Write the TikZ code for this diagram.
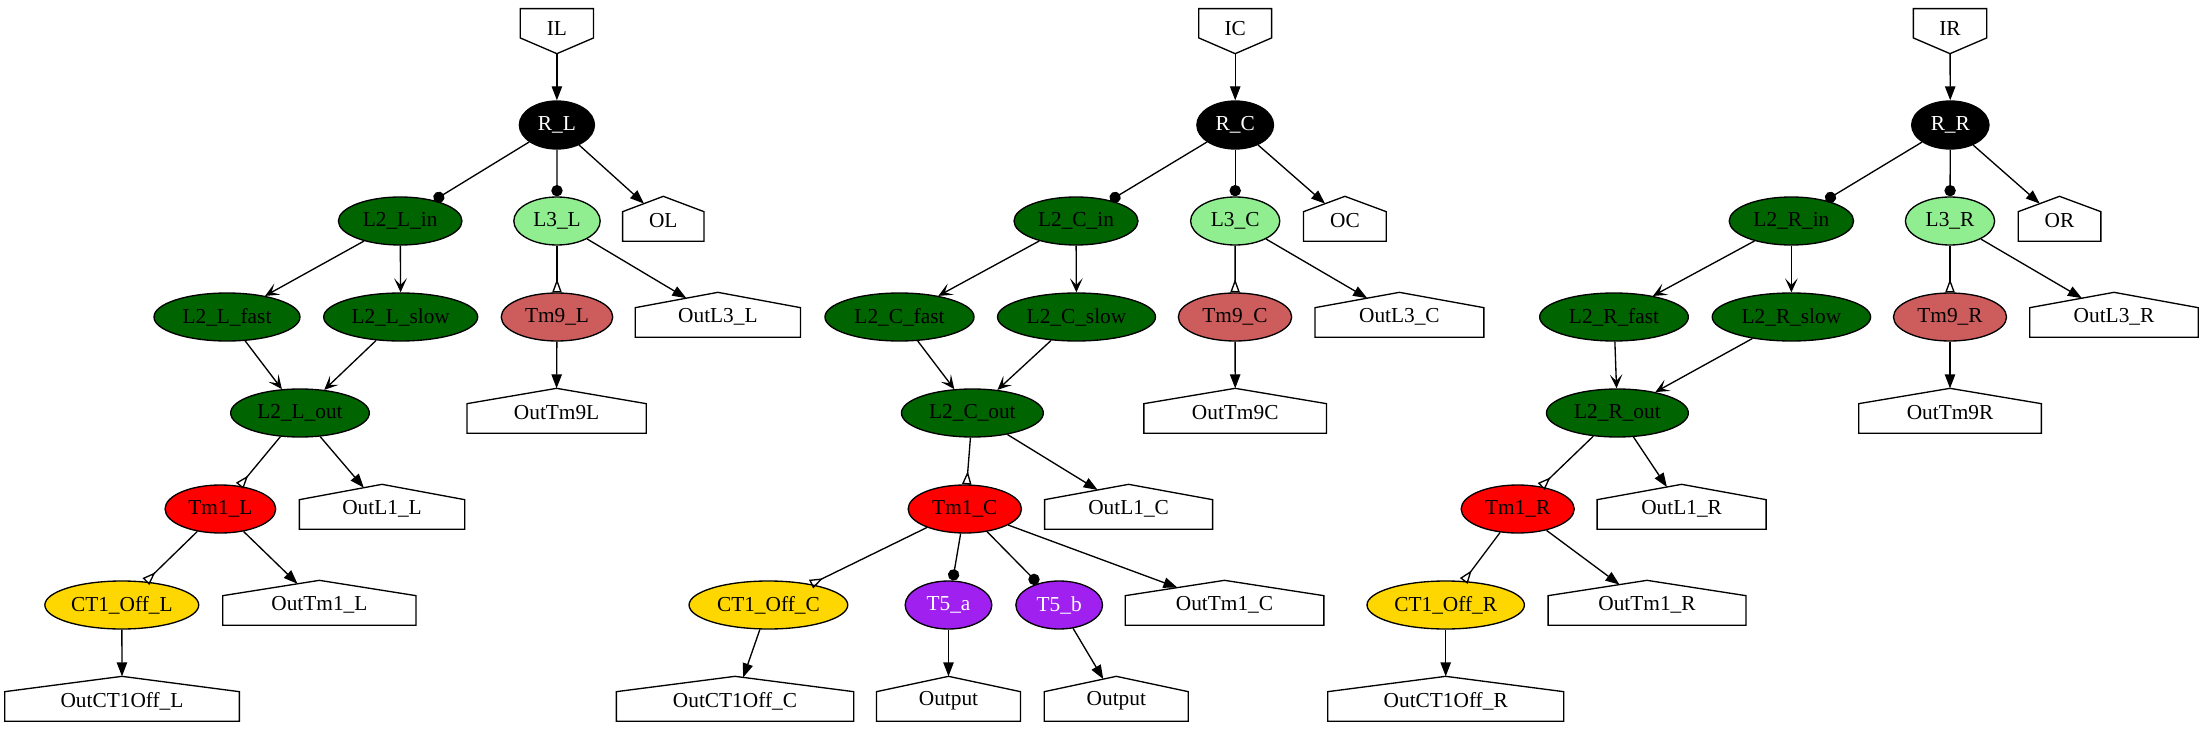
\documentclass[tikz,border=0pt]{standalone}
\usepackage{fontspec}
\setmainfont{Liberation Serif}
\usetikzlibrary{shapes.geometric,arrows.meta,intersections}
\definecolor{dkgreen}{HTML}{006400}
\definecolor{ltgreen}{HTML}{90EE90}
\definecolor{indred}{HTML}{CD5C5C}
\definecolor{goldc}{HTML}{FFD700}
\definecolor{purp}{HTML}{A020F0}
\newcommand\hsdraw[1]{\draw[name path=#1-bd] ([yshift=3.3pt]#1.south west) -- ([yshift=-11.5pt]#1.north west) -- (#1.north) -- ([yshift=-11.5pt]#1.north east) -- ([yshift=3.3pt]#1.south east) -- cycle;}
\newcommand\ihsdraw[1]{\draw ([yshift=-3.2pt]#1.north west) -- ([yshift=11.8pt]#1.south west) -- (#1.south) -- ([yshift=11.8pt]#1.south east) -- ([yshift=-3.2pt]#1.north east) -- cycle;}
\newcommand\hsedge[3]{%
  \path[name path=#2-#3-ln] (#2.center) -- (#3.center);
  \path[name intersections={of=#2-#3-ln and #3-bd, by={#2-#3-hit}}];
  \draw[#1] (#2) -- (#2-#3-hit);%
}
\begin{document}
\begin{tikzpicture}[x=0.75pt,y=-0.75pt,font=\fontsize{16}{19}\selectfont,line width=1pt,
  ell/.style={ellipse,draw,inner sep=0pt,minimum height=36pt},
  hs/.style={rectangle,inner sep=0pt,minimum height=36pt},
  blk/.style={ell,fill=black,text=white},
  dg/.style={ell,fill=dkgreen},
  lg/.style={ell,fill=ltgreen},
  ir/.style={ell,fill=indred},
  rd/.style={ell,fill=red},
  gd/.style={ell,fill=goldc},
  pu/.style={ell,fill=purp,text=white},
  anorm/.style={-{Triangle[length=10.5pt,width=7.8pt]}},
  adot/.style={-{Circle[length=8.5pt]}},
  avee/.style={-{Stealth[length=10.5pt,width=9.5pt,inset=5pt]}},
  ainv/.style={-{Triangle[open,reversed,length=10pt,width=7pt]}}]
\useasboundingbox (0,0) rectangle (2203,731);
% ---------- Left ----------
\node[hs,minimum width=54pt] (IL) at (556.9,29) {IL};
\node[blk,minimum width=56.3pt] (RL) at (556.9,125) {R\_L};
\node[dg,minimum width=92.7pt] (L2Lin) at (400.2,221) {L2\_L\_in};
\node[lg,minimum width=64.8pt] (L3L) at (557,221) {L3\_L};
\node[hs,minimum width=60pt] (OL) at (663.3,221) {OL};
\node[dg,minimum width=109.5pt] (L2Lfast) at (227,317) {L2\_L\_fast};
\node[dg,minimum width=115.5pt] (L2Lslow) at (400.7,317) {L2\_L\_slow};
\node[ir,minimum width=83.6pt] (Tm9L) at (557,317) {Tm9\_L};
\node[hs,minimum width=123pt] (OutL3L) at (717.9,317) {OutL3\_L};
\node[dg,minimum width=104pt] (L2Lout) at (300,413) {L2\_L\_out};
\node[hs,minimum width=133.5pt] (OutTm9L) at (556.6,413) {OutTm9L};
\node[rd,minimum width=83pt] (Tm1L) at (220.4,509) {Tm1\_L};
\node[hs,minimum width=123pt] (OutL1L) at (382,509) {OutL1\_L};
\node[gd,minimum width=115.4pt] (CT1L) at (121.8,605) {CT1\_Off\_L};
\node[hs,minimum width=144pt] (OutTm1L) at (319.4,605) {OutTm1\_L};
\node[hs,minimum width=175pt] (OutCTL) at (122,701) {OutCT1Off\_L};
% ---------- Center ----------
\node[hs,minimum width=53.6pt] (IC) at (1235.2,29) {IC};
\node[blk,minimum width=57.5pt] (RC) at (1235.2,125) {R\_C};
\node[dg,minimum width=93pt] (L2Cin) at (1076,221) {L2\_C\_in};
\node[lg,minimum width=66.9pt] (L3C) at (1235.2,221) {L3\_C};
\node[hs,minimum width=61pt] (OC) at (1344.9,221) {OC};
\node[dg,minimum width=111.8pt] (L2Cfast) at (899.5,317) {L2\_C\_fast};
\node[dg,minimum width=118.5pt] (L2Cslow) at (1076.5,317) {L2\_C\_slow};
\node[ir,minimum width=85pt] (Tm9C) at (1235,317) {Tm9\_C};
\node[hs,minimum width=125.7pt] (OutL3C) at (1399.4,317) {OutL3\_C};
\node[dg,minimum width=106.4pt] (L2Cout) at (972.4,413) {L2\_C\_out};
\node[hs,minimum width=136pt] (OutTm9C) at (1235.2,413) {OutTm9C};
\node[rd,minimum width=85pt] (Tm1C) at (964.8,509) {Tm1\_C};
\node[hs,minimum width=125pt] (OutL1C) at (1128.6,509) {OutL1\_C};
\node[gd,minimum width=119pt] (CT1C) at (768.4,605) {CT1\_Off\_C};
\node[pu,minimum width=65pt] (T5a) at (948.5,605) {T5\_a};
\node[pu,minimum width=65pt] (T5b) at (1059.2,605) {T5\_b};
\node[hs,minimum width=148pt] (OutTm1C) at (1224.5,605) {OutTm1\_C};
\node[hs,minimum width=177pt] (OutCTC) at (735,701) {OutCT1Off\_C};
\node[hs,minimum width=107pt] (OutA) at (948.5,701) {Output};
\node[hs,minimum width=107pt] (OutB) at (1116.3,701) {Output};
% ---------- Right ----------
\node[hs,minimum width=54pt] (IR) at (1950,29) {IR};
\node[blk,minimum width=58pt] (RR) at (1950.3,125) {R\_R};
\node[dg,minimum width=93.3pt] (L2Rin) at (1791.4,221) {L2\_R\_in};
\node[lg,minimum width=66.9pt] (L3R) at (1950,221) {L3\_R};
\node[hs,minimum width=61pt] (OR) at (2059.5,221) {OR};
\node[dg,minimum width=111.5pt] (L2Rfast) at (1614,317) {L2\_R\_fast};
\node[dg,minimum width=118.8pt] (L2Rslow) at (1791.4,317) {L2\_R\_slow};
\node[ir,minimum width=84.8pt] (Tm9R) at (1950,317) {Tm9\_R};
\node[hs,minimum width=125.3pt] (OutL3R) at (2114,317) {OutL3\_R};
\node[dg,minimum width=106.4pt] (L2Rout) at (1617.4,413) {L2\_R\_out};
\node[hs,minimum width=136pt] (OutTm9R) at (1950,413) {OutTm9R};
\node[rd,minimum width=84.8pt] (Tm1R) at (1517.7,509) {Tm1\_R};
\node[hs,minimum width=125.7pt] (OutL1R) at (1681.6,509) {OutL1\_R};
\node[gd,minimum width=118pt] (CT1R) at (1445.7,605) {CT1\_Off\_R};
\node[hs,minimum width=147.4pt] (OutTm1R) at (1647,605) {OutTm1\_R};
\node[hs,minimum width=176pt] (OutCTR) at (1445.7,701) {OutCT1Off\_R};
% ---------- house outlines ----------
\ihsdraw{IL}\ihsdraw{IC}\ihsdraw{IR}
\hsdraw{OL}\hsdraw{OutL3L}\hsdraw{OutTm9L}\hsdraw{OutL1L}\hsdraw{OutTm1L}\hsdraw{OutCTL}
\hsdraw{OC}\hsdraw{OutL3C}\hsdraw{OutTm9C}\hsdraw{OutL1C}\hsdraw{OutTm1C}\hsdraw{OutCTC}\hsdraw{OutA}\hsdraw{OutB}
\hsdraw{OR}\hsdraw{OutL3R}\hsdraw{OutTm9R}\hsdraw{OutL1R}\hsdraw{OutTm1R}\hsdraw{OutCTR}
% ---------- Left edges ----------
\draw[anorm] (IL) -- (RL);
\draw[adot] (RL) -- (L2Lin);
\draw[adot] (RL) -- (L3L);
\hsedge{anorm}{RL}{OL}
\draw[avee] (L2Lin) -- (L2Lfast);
\draw[avee] (L2Lin) -- (L2Lslow);
\draw[avee] (L2Lfast) -- (L2Lout);
\draw[avee] (L2Lslow) -- (L2Lout);
\draw[ainv] (L3L) -- (Tm9L);
\hsedge{anorm}{L3L}{OutL3L}
\draw[anorm] (Tm9L) -- (OutTm9L.north);
\draw[ainv] (L2Lout) -- (Tm1L);
\hsedge{anorm}{L2Lout}{OutL1L}
\draw[ainv] (Tm1L) -- (CT1L);
\hsedge{anorm}{Tm1L}{OutTm1L}
\draw[anorm] (CT1L) -- (OutCTL.north);
% ---------- Center edges ----------
\draw[anorm] (IC) -- (RC);
\draw[adot] (RC) -- (L2Cin);
\draw[adot] (RC) -- (L3C);
\hsedge{anorm}{RC}{OC}
\draw[avee] (L2Cin) -- (L2Cfast);
\draw[avee] (L2Cin) -- (L2Cslow);
\draw[avee] (L2Cfast) -- (L2Cout);
\draw[avee] (L2Cslow) -- (L2Cout);
\draw[ainv] (L3C) -- (Tm9C);
\hsedge{anorm}{L3C}{OutL3C}
\draw[anorm] (Tm9C) -- (OutTm9C.north);
\draw[ainv] (L2Cout) -- (Tm1C);
\hsedge{anorm}{L2Cout}{OutL1C}
\draw[ainv] (Tm1C) -- (CT1C);
\draw[adot] (Tm1C) -- (T5a);
\draw[adot] (Tm1C) -- (T5b);
\hsedge{anorm}{Tm1C}{OutTm1C}
\hsedge{anorm}{CT1C}{OutCTC}
\draw[anorm] (T5a) -- (OutA.north);
\hsedge{anorm}{T5b}{OutB}
% ---------- Right edges ----------
\draw[anorm] (IR) -- (RR);
\draw[adot] (RR) -- (L2Rin);
\draw[adot] (RR) -- (L3R);
\hsedge{anorm}{RR}{OR}
\draw[avee] (L2Rin) -- (L2Rfast);
\draw[avee] (L2Rin) -- (L2Rslow);
\draw[avee] (L2Rfast) -- (L2Rout);
\draw[avee] (L2Rslow) -- (L2Rout);
\draw[ainv] (L3R) -- (Tm9R);
\hsedge{anorm}{L3R}{OutL3R}
\draw[anorm] (Tm9R) -- (OutTm9R.north);
\draw[ainv] (L2Rout) -- (Tm1R);
\hsedge{anorm}{L2Rout}{OutL1R}
\draw[ainv] (Tm1R) -- (CT1R);
\hsedge{anorm}{Tm1R}{OutTm1R}
\draw[anorm] (CT1R) -- (OutCTR.north);
\end{tikzpicture}
\end{document}
